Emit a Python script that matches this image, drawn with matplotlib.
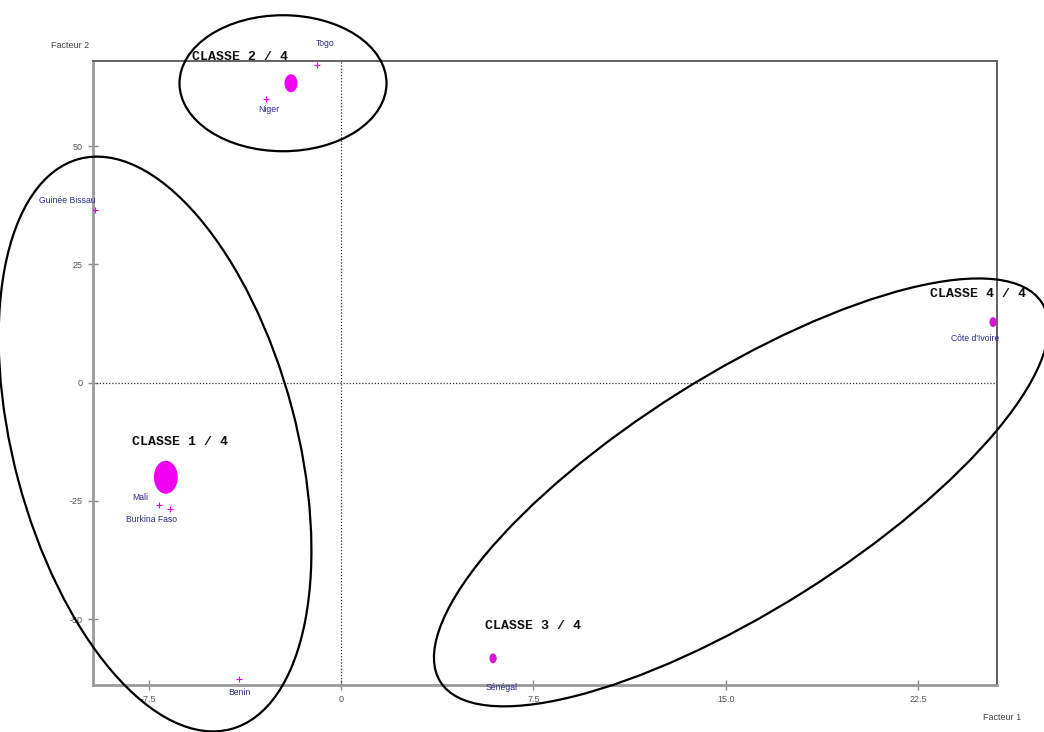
import matplotlib
matplotlib.use("Agg")
import matplotlib.pyplot as plt
from matplotlib.patches import Ellipse
from matplotlib.path import Path
from matplotlib.transforms import IdentityTransform
from matplotlib import font_manager
import numpy as np

# individual countries (factor 1, factor 2)
pays = ["Togo", "Niger", "Guinée Bissau", "Mali", "Burkina Faso", "Benin", "Sénégal", "Côte d'Ivoire"]
f1_pays = [-0.94, -2.93, -9.59, -7.10, -6.67, -3.98, 5.93, 25.43]
f2_pays = [67.1, 60.0, 36.4, -25.9, -26.7, -62.7, -58.3, 12.8]
decal_pays = [(8, 22), (3, -11), (-28, 10), (-19, 8), (-18, -11), (1, -13), (9, -29), (-18, -16)]

# class centroids
classes = ["CLASSE 1 / 4", "CLASSE 2 / 4", "CLASSE 3 / 4", "CLASSE 4 / 4"]
f1_classes = [-6.83, -1.95, 5.93, 25.43]
f2_classes = [-20.0, 63.3, -58.3, 12.8]
taille_classes = [33, 18, 10, 10]
couleur_classes = ["#f000f0", "#f000f0", "#d020d0", "#d020d0"]
decal_classes = [(14, 35), (-51, 26), (40, 32), (-15, 28)]

# enveloping ellipses: centre (data), width/height in pixels, angle
ell_centre_f1 = [-7.25, -2.26, 15.61]
ell_centre_f2 = [-12.98, 63.3, -23.21]
ell_larg = [590, 207, 711]
ell_haut = [283, 136, 235]
ell_angle = [104.9, 0, 32.2]

xticks = [-7.5, 0, 7.5, 15.0, 22.5]
xtick_labels = ["-7.5", "0", "7.5", "15.0", "22.5"]
yticks = [50, 25, 0, -25, -50]
ytick_labels = ["50", "25", "0", "-25", "-50"]

noms = {f.name for f in font_manager.fontManager.ttflist}
police = "Liberation Sans Narrow" if "Liberation Sans Narrow" in noms else "Liberation Sans"

W, H = 1044, 732
fig = plt.figure(figsize=(W / 100, H / 100), dpi=100)
ax = fig.add_axes([93 / W, 1 - 685 / H, (997 - 93) / W, (685 - 61) / H])
ax.set_xlim(-9.67, 25.585)
ax.set_ylim(-63.93, 68.0)

for cote in ["left", "bottom"]:
    ax.spines[cote].set_color("#9a9a9a")
    ax.spines[cote].set_linewidth(2)
for cote in ["top", "right"]:
    ax.spines[cote].set_color("#555555")
    ax.spines[cote].set_linewidth(1.3)

ax.set_xticks(xticks)
ax.set_xticklabels(xtick_labels, family=police, fontsize=6.5, color="#555555")
ax.set_yticks(yticks)
ax.set_yticklabels(ytick_labels, family=police, fontsize=6.5, color="#555555")
ax.tick_params(direction="inout", length=7, width=1, color="#888888", pad=4)

ax.axhline(0, color="#333333", linestyle=(0, (1, 1.5)), linewidth=0.9)
ax.axvline(0, color="#333333", linestyle=(0, (1, 1.5)), linewidth=0.9)

# oval marker for centroids
t = np.linspace(0, 2 * np.pi, 60)
ovale = Path(np.column_stack([0.72 * np.cos(t), np.sin(t)]))
ax.scatter(f1_classes, f2_classes, marker=ovale, s=[(h * 0.72) ** 2 for h in taille_classes],
           color=couleur_classes, zorder=3, linewidths=0)

ax.scatter(f1_pays, f2_pays, marker="+", s=16, color="#e000e0", linewidths=0.8, zorder=4)

for nom, x, y, d in zip(pays, f1_pays, f2_pays, decal_pays):
    ax.annotate(nom, (x, y), xytext=d, textcoords="offset pixels", ha="center", va="center",
                family=police, fontsize=6.2, color="#2a2a8a", annotation_clip=False)

for nom, x, y, d in zip(classes, f1_classes, f2_classes, decal_classes):
    ax.annotate(nom, (x, y), xytext=d, textcoords="offset pixels", ha="center", va="center",
                family="Liberation Mono", fontweight="bold", fontsize=9.5, color="#111111",
                annotation_clip=False, zorder=5)

for cx, cy, w, h, a in zip(ell_centre_f1, ell_centre_f2, ell_larg, ell_haut, ell_angle):
    px, py = ax.transData.transform((cx, cy))
    fig.add_artist(Ellipse((px, py), w, h, angle=a, transform=IdentityTransform(),
                           fill=False, edgecolor="black", linewidth=1.6))

fig.text(70 / W, 1 - 45 / H, "Facteur 2", family=police, fontsize=6.5, color="#444444",
         ha="center", va="center")
fig.text(1002 / W, 1 - 717 / H, "Facteur 1", family=police, fontsize=6.5, color="#444444",
         ha="center", va="center")

fig.savefig("out.png", dpi=100)
